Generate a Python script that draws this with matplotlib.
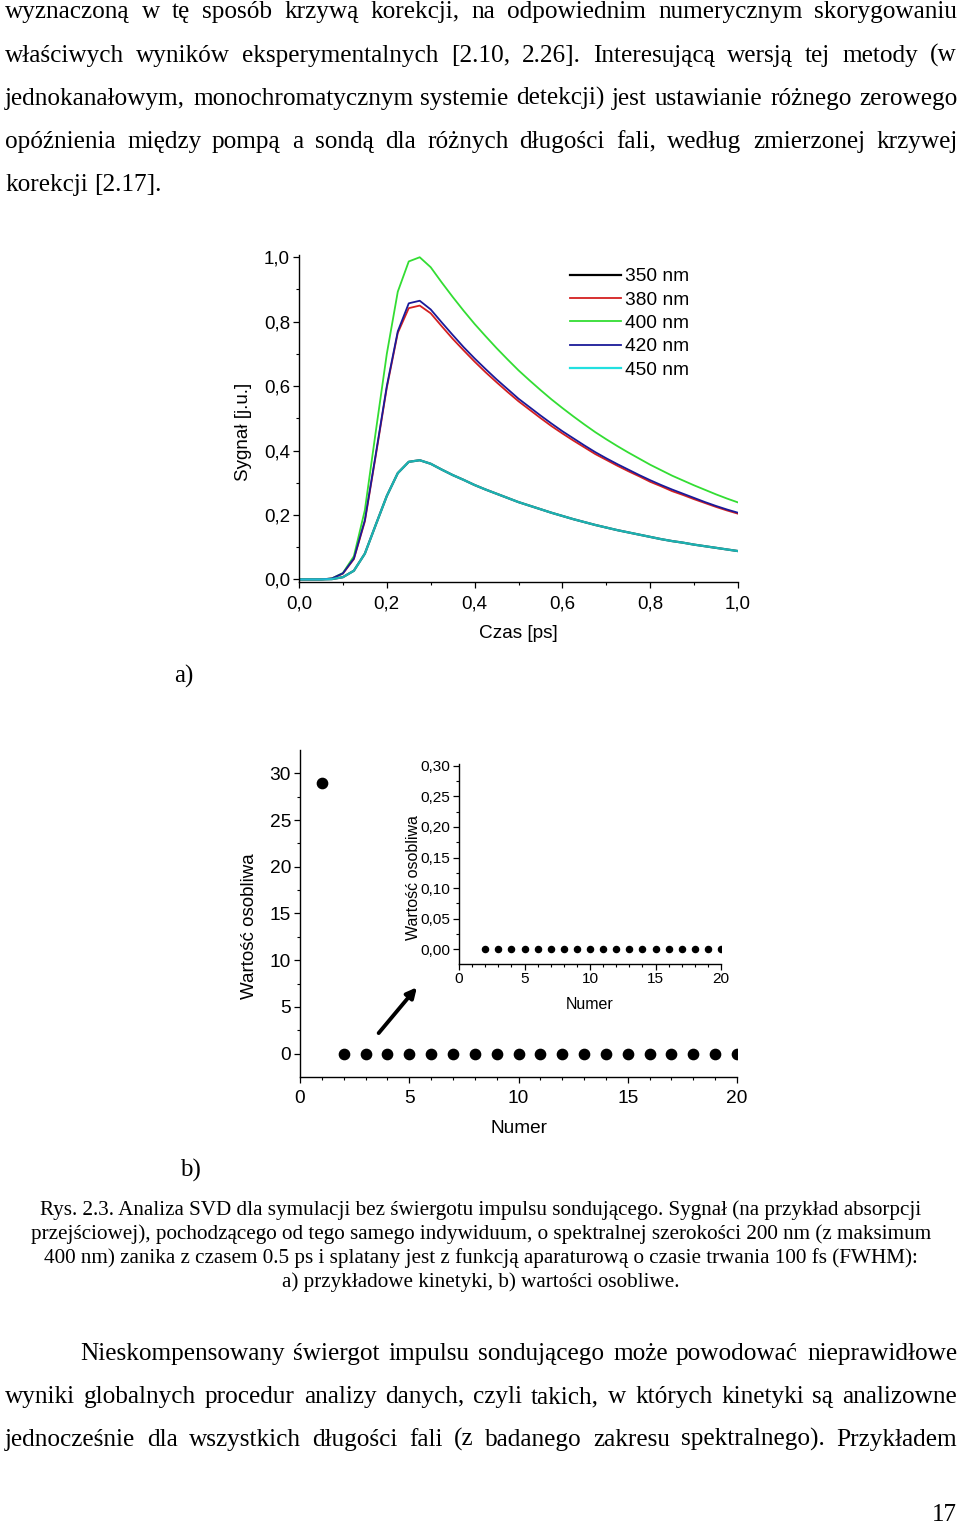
import numpy as np
import matplotlib
matplotlib.use("Agg")
import matplotlib.pyplot as plt

W, H = 960, 1525

# --- dane: wykres a) kinetyki ---
czas = [0.0, 0.025, 0.05, 0.075, 0.1, 0.125, 0.15, 0.175, 0.2, 0.225, 0.25, 0.275, 0.3,
        0.325, 0.35, 0.375, 0.4, 0.425, 0.45, 0.475, 0.5, 0.525, 0.55, 0.575, 0.6,
        0.625, 0.65, 0.675, 0.7, 0.725, 0.75, 0.775, 0.8, 0.825, 0.85, 0.875, 0.9,
        0.925, 0.95, 0.975, 1.0]
s400 = [0.0, 0.0, 0.0, 0.003, 0.02, 0.072, 0.215, 0.46, 0.70, 0.893, 0.987, 1.0, 0.969,
        0.922, 0.877, 0.834, 0.793, 0.755, 0.718, 0.683, 0.649, 0.618, 0.588, 0.559, 0.532,
        0.506, 0.481, 0.457, 0.435, 0.414, 0.394, 0.375, 0.356, 0.339, 0.322, 0.307, 0.292,
        0.278, 0.264, 0.251, 0.239]
s420 = [0.0, 0.0, 0.0, 0.003, 0.019, 0.065, 0.184, 0.39, 0.60, 0.77, 0.857, 0.865, 0.838,
        0.798, 0.759, 0.721, 0.686, 0.653, 0.621, 0.591, 0.561, 0.535, 0.509, 0.484, 0.460,
        0.438, 0.416, 0.395, 0.376, 0.358, 0.341, 0.324, 0.308, 0.293, 0.279, 0.266, 0.253,
        0.240, 0.228, 0.217, 0.207]
s380 = [0.0, 0.0, 0.0, 0.003, 0.018, 0.063, 0.18, 0.385, 0.595, 0.765, 0.842, 0.850, 0.826,
        0.786, 0.747, 0.711, 0.676, 0.643, 0.612, 0.582, 0.553, 0.527, 0.501, 0.476, 0.453,
        0.431, 0.410, 0.389, 0.371, 0.353, 0.336, 0.320, 0.303, 0.289, 0.274, 0.262, 0.249,
        0.237, 0.225, 0.214, 0.204]
s450 = [0.0, 0.0, 0.0, 0.001, 0.007, 0.027, 0.08, 0.17, 0.259, 0.33, 0.365, 0.37, 0.359,
        0.341, 0.324, 0.309, 0.293, 0.279, 0.266, 0.253, 0.240, 0.229, 0.218, 0.207, 0.197,
        0.187, 0.178, 0.169, 0.161, 0.153, 0.146, 0.139, 0.132, 0.125, 0.119, 0.114, 0.108,
        0.103, 0.098, 0.093, 0.088]
s350 = [0.0, 0.0, 0.0, 0.001, 0.007, 0.027, 0.08, 0.17, 0.259, 0.33, 0.365, 0.37, 0.359,
        0.341, 0.324, 0.309, 0.293, 0.279, 0.266, 0.253, 0.240, 0.229, 0.218, 0.207, 0.197,
        0.187, 0.178, 0.169, 0.161, 0.153, 0.146, 0.139, 0.132, 0.125, 0.119, 0.114, 0.108,
        0.103, 0.098, 0.093, 0.088]
etykiety_fal = ["350 nm", "380 nm", "400 nm", "420 nm", "450 nm"]

ticks_a = [0.0, 0.2, 0.4, 0.6, 0.8, 1.0]
ticklab_a = ["0,0", "0,2", "0,4", "0,6", "0,8", "1,0"]

# --- dane: wykres b) wartosci osobliwe ---
numer = list(range(1, 21))
wartosc = [29.0] + [0.0] * 19
ticks_b_x = [0, 5, 10, 15, 20]
ticks_b_y = [0, 5, 10, 15, 20, 25, 30]
ticks_in_y = [0.0, 0.05, 0.10, 0.15, 0.20, 0.25, 0.30]
ticklab_in_y = ["0,00", "0,05", "0,10", "0,15", "0,20", "0,25", "0,30"]

# --- tekst strony ---
akapit1 = ["wyznaczoną w tę sposób krzywą korekcji, na odpowiednim numerycznym skorygowaniu",
           "właściwych wyników eksperymentalnych [2.10, 2.26]. Interesującą wersją tej metody (w",
           "jednokanałowym, monochromatycznym systemie detekcji) jest ustawianie różnego zerowego",
           "opóźnienia między pompą a sondą dla różnych długości fali, według zmierzonej krzywej",
           "korekcji [2.17]."]
podpis = ["Rys. 2.3. Analiza SVD dla symulacji bez świergotu impulsu sondującego. Sygnał (na przykład absorpcji",
          "przejściowej), pochodzącego od tego samego indywiduum, o spektralnej szerokości 200 nm (z maksimum",
          "400 nm) zanika z czasem 0.5 ps i splatany jest z funkcją aparaturową o czasie trwania 100 fs (FWHM):",
          "a) przykładowe kinetyki, b) wartości osobliwe."]
akapit2 = ["Nieskompensowany świergot impulsu sondującego może powodować nieprawidłowe",
           "wyniki globalnych procedur analizy danych, czyli takich, w których kinetyki są analizowne",
           "jednocześnie dla wszystkich długości fali (z badanego zakresu spektralnego). Przykładem"]

plt.rcParams['font.family'] = ['Liberation Sans', 'DejaVu Sans']

fig = plt.figure(figsize=(W / 100, H / 100), dpi=100)


def rect(x0, y0, x1, y1):
    # piksele strony -> ulamki figury
    return [x0 / W, 1 - y1 / H, (x1 - x0) / W, (y1 - y0) / H]


def styl(ax, fs, xpad):
    for s in ['top', 'right']:
        ax.spines[s].set_visible(False)
    for s in ['left', 'bottom']:
        ax.spines[s].set_linewidth(1.0)
    ax.tick_params(which='major', direction='out', length=4.5, width=0.9, labelsize=fs, pad=2)
    ax.tick_params(which='minor', direction='out', length=2.3, width=0.8)
    ax.tick_params(axis='x', which='major', pad=xpad)


# a) kinetyki
ax = fig.add_axes(rect(299, 255, 738, 582))
ax.plot(czas, s350, color='black', lw=1.6, label=etykiety_fal[0])
ax.plot(czas, s380, color='#d42020', lw=1.3, label=etykiety_fal[1])
ax.plot(czas, s400, color='#33dd33', lw=1.3, label=etykiety_fal[2])
ax.plot(czas, s420, color='#1a1a99', lw=1.3, label=etykiety_fal[3])
ax.plot(czas, s450, color='#22e0e0', lw=1.6, alpha=0.8, label=etykiety_fal[4])
ax.set_xlim(0, 1.0)
ax.set_ylim(-0.008, 1.007)
ax.set_xticks(ticks_a)
ax.set_xticklabels(ticklab_a)
ax.set_yticks(ticks_a)
ax.set_yticklabels(ticklab_a)
ax.set_xticks(np.arange(0.1, 1.0, 0.2), minor=True)
ax.set_yticks(np.arange(0.1, 1.0, 0.2), minor=True)
styl(ax, 13.5, 5)
ax.set_xlabel("Czas [ps]", fontsize=13.7, labelpad=9)
ax.set_ylabel("Sygnał [j.u.]", fontsize=13.5)
ax.yaxis.set_label_coords(-0.107, 0.46)
leg = ax.legend(loc='upper left', bbox_to_anchor=(570 / W, 1 - 268 / H),
                bbox_transform=fig.transFigure, frameon=False, fontsize=13.8,
                handlelength=2.65, handletextpad=0.22, labelspacing=0.31,
                borderpad=0, borderaxespad=0)
for ln in leg.get_lines():
    ln.set_alpha(1)

# b) wartosci osobliwe
bx = fig.add_axes(rect(300, 750, 737, 1077))
bx.plot(numer, wartosc, 'o', color='black', ms=7.4)
bx.set_xlim(0, 20)
bx.set_ylim(-2.5, 32.5)
bx.set_xticks(ticks_b_x)
bx.set_yticks(ticks_b_y)
bx.set_xticks(np.arange(1, 20, 1), minor=True)
bx.set_yticks(np.arange(2.5, 32.5, 5), minor=True)
styl(bx, 13.8, 5)
bx.set_xlabel("Numer", fontsize=13.7, labelpad=9)
bx.set_ylabel("Wartość osobliwa", fontsize=13.5)
bx.yaxis.set_label_coords(-0.096, 0.462)
bx.annotate("", xy=(5.35, 7.1), xytext=(3.6, 2.2),
            arrowprops=dict(arrowstyle='-|>', lw=2.8, color='black', mutation_scale=15,
                            shrinkA=0, shrinkB=0))

ix = fig.add_axes(rect(459, 764, 721, 964))
ix.patch.set_alpha(0)
ix.plot(numer[1:], wartosc[1:], 'o', color='black', ms=4.4)
ix.set_xlim(0, 20)
ix.set_ylim(-0.024, 0.303)
ix.set_xticks(ticks_b_x)
ix.set_yticks(ticks_in_y)
ix.set_yticklabels(ticklab_in_y)
ix.set_xticks(np.arange(1, 20, 1), minor=True)
ix.set_yticks(np.arange(0.025, 0.3, 0.05), minor=True)
styl(ix, 11.1, 1.5)
ix.set_xlabel("Numer", fontsize=11.5, labelpad=8)
ix.set_ylabel("Wartość osobliwa", fontsize=11.5)
ix.yaxis.set_label_coords(-0.145, 0.4325)

# --- tekst strony ---
serif = ['Liberation Serif', 'DejaVu Serif']
renderer = fig.canvas.get_renderer()


def linia(tekst, y, x0, x1, fs, justuj=True):
    # wyjustowana linia: slowa osobno, rowne odstepy
    slowa = tekst.split()
    tt = [fig.text(0, 1 - y / H, s, fontsize=fs, family=serif, va='baseline') for s in slowa]
    szer = [t.get_window_extent(renderer).width for t in tt]
    if justuj and len(slowa) > 1:
        odstep = (x1 - x0 - sum(szer)) / (len(slowa) - 1)
    else:
        odstep = fs * 100 / 72 * 0.25
    x = x0
    for t, w in zip(tt, szer):
        t.set_x(round(x) / W)
        x += w + odstep


for i, l in enumerate(akapit1):
    linia(l, round(18.5 + 43.2 * i), 5, 957, 18.2, justuj=(i < len(akapit1) - 1))

for i, l in enumerate(podpis):
    fig.text(481 / W, 1 - (1215 + 24 * i) / H, l, fontsize=15.2, family=serif,
             ha='center', va='baseline')

linia(akapit2[0], 1360, 80, 957, 18.2)
linia(akapit2[1], 1403, 5, 957, 18.2)
linia(akapit2[2], 1446, 5, 957, 18.2)

fig.text(174 / W, 1 - 683 / H, "a)", fontsize=18, family=serif, va='baseline')
fig.text(180 / W, 1 - 1177 / H, "b)", fontsize=18, family=serif, va='baseline')
fig.text(957 / W, 1 - 1521 / H, "17", fontsize=18, family=serif, va='baseline', ha='right')

fig.savefig("out.png", dpi=100)
